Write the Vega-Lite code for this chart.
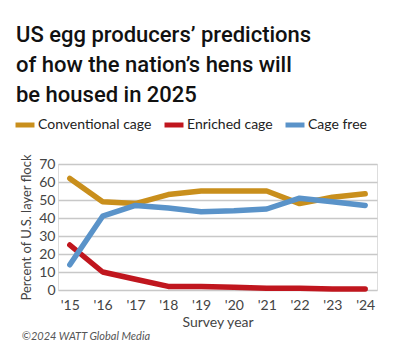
{
  "$schema": "https://vega.github.io/schema/vega-lite/v6.json",
  "padding": {"left": 13, "top": 24, "right": 5, "bottom": 5},
  "background": "white",
  "title": {
    "text": ["US egg producers’ predictions", "of how the nation’s hens will", "be housed in 2025"],
    "anchor": "start",
    "frame": "bounds",
    "offset": 6,
    "dx": 3,
    "font": "Roboto",
    "fontSize": 22,
    "fontWeight": 500,
    "lineHeight": 30,
    "color": "#111111"
  },
  "vconcat": [
    {
      "width": 319,
      "height": 126,
      "title": {
        "text": "©2024 WATT Global Media",
        "orient": "bottom",
        "anchor": "start",
        "frame": "bounds",
        "dx": 1,
        "offset": 2,
        "font": "Lato",
        "fontStyle": "italic",
        "fontSize": 11,
        "fontWeight": "normal",
        "color": "#555555"
      },
      "data": {
        "values": [
          {"year": "'15", "type": "Conventional cage", "pct": 62},
          {"year": "'16", "type": "Conventional cage", "pct": 49},
          {"year": "'17", "type": "Conventional cage", "pct": 48},
          {"year": "'18", "type": "Conventional cage", "pct": 53},
          {"year": "'19", "type": "Conventional cage", "pct": 55},
          {"year": "'20", "type": "Conventional cage", "pct": 55},
          {"year": "'21", "type": "Conventional cage", "pct": 55},
          {"year": "'22", "type": "Conventional cage", "pct": 48},
          {"year": "'23", "type": "Conventional cage", "pct": 51.5},
          {"year": "'24", "type": "Conventional cage", "pct": 53.5},
          {"year": "'15", "type": "Enriched cage", "pct": 25},
          {"year": "'16", "type": "Enriched cage", "pct": 10},
          {"year": "'17", "type": "Enriched cage", "pct": 6},
          {"year": "'18", "type": "Enriched cage", "pct": 2},
          {"year": "'19", "type": "Enriched cage", "pct": 2},
          {"year": "'20", "type": "Enriched cage", "pct": 1.5},
          {"year": "'21", "type": "Enriched cage", "pct": 1},
          {"year": "'22", "type": "Enriched cage", "pct": 1},
          {"year": "'23", "type": "Enriched cage", "pct": 0.5},
          {"year": "'24", "type": "Enriched cage", "pct": 0.5},
          {"year": "'15", "type": "Cage free", "pct": 14},
          {"year": "'16", "type": "Cage free", "pct": 41},
          {"year": "'17", "type": "Cage free", "pct": 47},
          {"year": "'18", "type": "Cage free", "pct": 45.5},
          {"year": "'19", "type": "Cage free", "pct": 43.5},
          {"year": "'20", "type": "Cage free", "pct": 44},
          {"year": "'21", "type": "Cage free", "pct": 45},
          {"year": "'22", "type": "Cage free", "pct": 51},
          {"year": "'23", "type": "Cage free", "pct": 49},
          {"year": "'24", "type": "Cage free", "pct": 47}
        ]
      },
      "mark": {"type": "line", "strokeWidth": 5.5, "strokeJoin": "round", "strokeCap": "round"},
      "encoding": {
        "x": {
          "field": "year",
          "type": "ordinal",
          "sort": null,
          "scale": {"type": "point", "padding": 0.36},
          "axis": {
            "title": "Survey year",
            "labelAngle": 0,
            "ticks": false,
            "domain": false,
            "grid": false,
            "labelPadding": 8,
            "labelFont": "Lato",
            "labelFontSize": 14,
            "labelColor": "#444444",
            "titleFont": "Lato",
            "titleFontSize": 14,
            "titleFontWeight": "normal",
            "titleColor": "#444444",
            "titlePadding": 3
          }
        },
        "y": {
          "field": "pct",
          "type": "quantitative",
          "scale": {"domain": [0, 70], "nice": false},
          "axis": {
            "title": "Percent of U.S. layer flock",
            "values": [0, 10, 20, 30, 40, 50, 60, 70],
            "ticks": false,
            "domain": false,
            "gridColor": "#c8c8c8",
            "gridWidth": 1.5,
            "labelPadding": 3,
            "labelFont": "Lato",
            "labelFontSize": 14,
            "labelColor": "#444444",
            "titleFont": "Lato",
            "titleFontSize": 13,
            "titleFontWeight": "normal",
            "titleColor": "#444444",
            "titlePadding": 5
          }
        },
        "color": {
          "field": "type",
          "type": "nominal",
          "scale": {
            "domain": ["Conventional cage", "Enriched cage", "Cage free"],
            "range": ["#c98f1c", "#c0161e", "#5a93c9"]
          },
          "legend": {
            "title": null,
            "orient": "none",
            "direction": "horizontal",
            "legendX": -45,
            "legendY": -51,
            "symbolType": "stroke",
            "symbolStrokeWidth": 5,
            "symbolSize": 360,
            "labelFont": "Lato",
            "labelFontSize": 14,
            "labelColor": "#222222",
            "columnPadding": 2,
            "labelOffset": 1
          }
        }
      }
    }
  ]
}
